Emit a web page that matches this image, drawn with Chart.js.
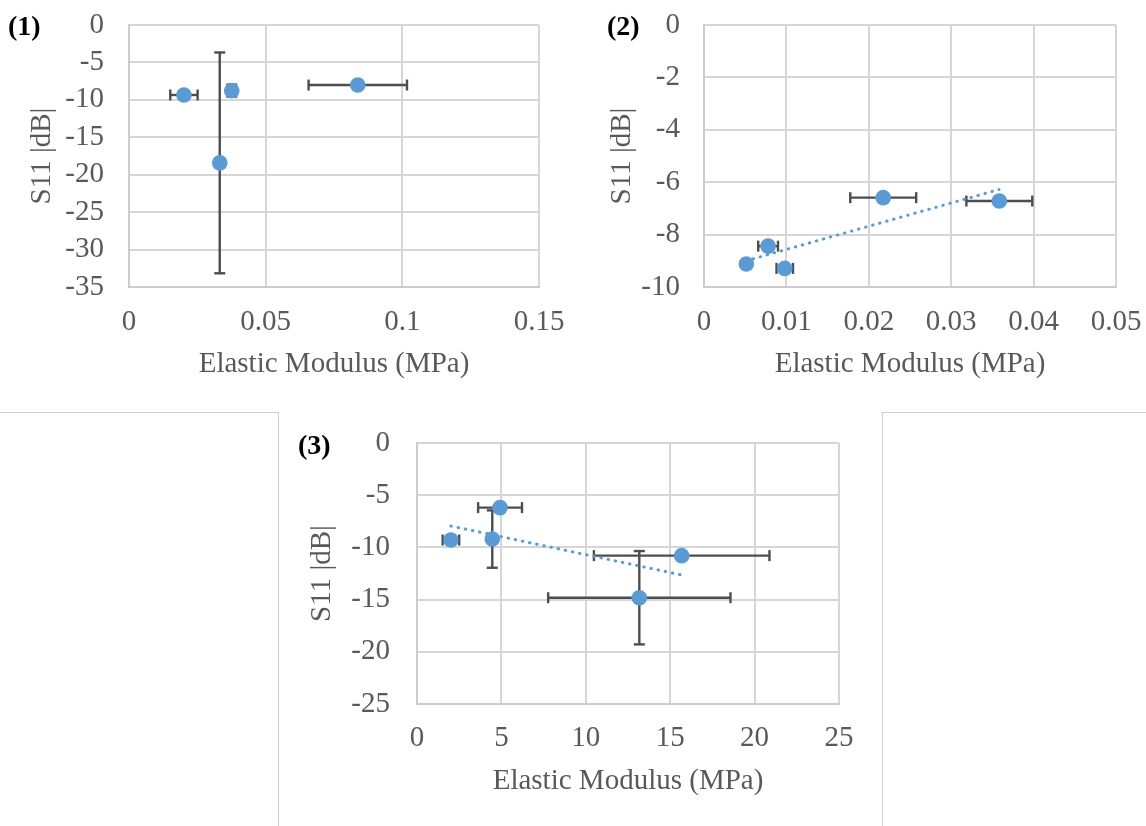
<!DOCTYPE html>
<html>
<head>
<meta charset="utf-8">
<script src="https://cdn.jsdelivr.net/npm/chart.js@4.4.1/dist/chart.umd.min.js"></script>
<style>
  html, body { margin: 0; padding: 0; background: #ffffff; }
  body { width: 1146px; height: 826px; position: relative; overflow: hidden; font-family: "Liberation Serif", "Times New Roman", serif; }
  canvas { position: absolute; }
  .plabel { position: absolute; font: bold 28px "Liberation Serif", serif; color: #000; line-height: 28px; white-space: nowrap; }
  .rule { position: absolute; background: #d0d0d0; }
</style>
</head>
<body>
<canvas id="c1" width="580" height="400" style="left:0px;top:0px"></canvas>
<canvas id="c2" width="566" height="400" style="left:580px;top:0px"></canvas>
<canvas id="c3" width="600" height="413" style="left:280px;top:413px"></canvas>

<div class="plabel" style="left:8px;top:12px">(1)</div>
<div class="plabel" style="left:607px;top:12px">(2)</div>
<div class="plabel" style="left:298px;top:431px">(3)</div>

<div class="rule" style="left:0px;top:412px;width:279px;height:1px"></div>
<div class="rule" style="left:882px;top:412px;width:264px;height:1px"></div>
<div class="rule" style="left:278px;top:412px;width:1px;height:414px"></div>
<div class="rule" style="left:882px;top:412px;width:1px;height:414px"></div>

<script>
// ---------- shared text ----------
const xTitle = "Elastic Modulus (MPa)";
const yTitle = "S11 |dB|";

// ---------- panel (1) ----------
const p1X    = [0.0201, 0.0376, 0.0332, 0.0837];
const p1Y    = [-9.35, -8.77, -18.42, -8.02];
const p1XErr = [0.005, 0, 0, 0.018];
const p1YErr = [0, 0.8, 14.75, 0];
const p1XTicks = [0, 0.05, 0.1, 0.15];
const p1XTickLabels = ["0", "0.05", "0.1", "0.15"];
const p1YTicks = [0, -5, -10, -15, -20, -25, -30, -35];
const p1YTickLabels = ["0", "-5", "-10", "-15", "-20", "-25", "-30", "-35"];

// ---------- panel (2) ----------
const p2X    = [0.00514, 0.00778, 0.0098, 0.02175, 0.03584];
const p2Y    = [-9.12, -8.44, -9.29, -6.59, -6.72];
const p2XErr = [0, 0.0012, 0.001, 0.004, 0.004];
const p2YErr = [0, 0, 0, 0, 0];
const p2TrendX = [0.0051, 0.0358];
const p2TrendY = [-9.0, -6.28];
const p2XTicks = [0, 0.01, 0.02, 0.03, 0.04, 0.05];
const p2XTickLabels = ["0", "0.01", "0.02", "0.03", "0.04", "0.05"];
const p2YTicks = [0, -2, -4, -6, -8, -10];
const p2YTickLabels = ["0", "-2", "-4", "-6", "-8", "-10"];

// ---------- panel (3) ----------
const p3X    = [2.01, 4.46, 4.92, 15.68, 13.17];
const p3Y    = [-9.29, -9.2, -6.19, -10.79, -14.82];
const p3XErr = [0.49, 0, 1.3, 5.2, 5.4];
const p3YErr = [0, 2.75, 0, 0, 4.47];
const p3TrendX = [2.01, 15.68];
const p3TrendY = [-7.95, -12.64];
const p3XTicks = [0, 5, 10, 15, 20, 25];
const p3XTickLabels = ["0", "5", "10", "15", "20", "25"];
const p3YTicks = [0, -5, -10, -15, -20, -25];
const p3YTickLabels = ["0", "-5", "-10", "-15", "-20", "-25"];

// ---------- styling ----------
const BLUE = '#5b9bd5';
const GRAY_TEXT = '#595959';
const GRID = '#d6d6d6';
const ERR = '#4d4d4d';
const FONT_SIZE = 29;
Chart.defaults.font.family = '"Liberation Serif", "Times New Roman", serif';

function errorBarPlugin(xs, ys, xe, ye) {
  return {
    id: 'errbars',
    beforeDatasetsDraw(chart) {
      const sx = chart.scales.x, sy = chart.scales.y, ctx = chart.ctx;
      const cap = 5.5;
      ctx.save();
      ctx.strokeStyle = ERR;
      ctx.lineWidth = 2.4;
      ctx.lineCap = 'butt';
      const seg = (a, b, c, d) => { ctx.beginPath(); ctx.moveTo(a, b); ctx.lineTo(c, d); ctx.stroke(); };
      xs.forEach((xv, i) => {
        const px = sx.getPixelForValue(xv);
        const py = sy.getPixelForValue(ys[i]);
        if (xe[i] > 0) {
          const l = sx.getPixelForValue(xv - xe[i]);
          const r = sx.getPixelForValue(xv + xe[i]);
          seg(l, py, r, py);
          seg(l, py - cap, l, py + cap);
          seg(r, py - cap, r, py + cap);
        }
        if (ye[i] > 0) {
          const t = sy.getPixelForValue(ys[i] + ye[i]);
          const b = sy.getPixelForValue(ys[i] - ye[i]);
          seg(px, t, px, b);
          seg(px - cap, t, px + cap, t);
          seg(px - cap, b, px + cap, b);
        }
      });
      ctx.restore();
    }
  };
}

// the gap between the plot edge and the tick labels is made with an invisible
// tick mark (tickLength) so that it does not add to the axis edge padding
function axisCfg(isX, ticksArr, labelsArr, size, gap, titleText) {
  return {
    type: 'linear',
    position: isX ? 'bottom' : 'left',
    min: Math.min(...ticksArr),
    max: Math.max(...ticksArr),
    afterBuildTicks: (axis) => { axis.ticks = ticksArr.map(v => ({ value: v })); },
    afterFit: (axis) => { if (isX) axis.height = size; else axis.width = size; },
    ticks: {
      autoSkip: false,
      maxRotation: 0,
      minRotation: 0,
      padding: 0,
      color: GRAY_TEXT,
      font: { size: FONT_SIZE },
      callback: (v) => { const k = ticksArr.indexOf(v); return k >= 0 ? labelsArr[k] : ''; }
    },
    grid: { color: GRID, lineWidth: 2, drawTicks: true, tickLength: gap, tickColor: 'rgba(0,0,0,0)' },
    border: { display: true, color: '#cccccc', width: 2 },
    title: {
      display: true,
      text: titleText,
      color: GRAY_TEXT,
      font: { size: FONT_SIZE },
      padding: isX ? { top: 0, bottom: 0 } : { top: 25, bottom: 0 }
    }
  };
}

function makeChart(id, d) {
  const datasets = [{
    label: 'data',
    data: d.x.map((v, i) => ({ x: v, y: d.y[i] })),
    pointRadius: 7.8,
    pointHoverRadius: 7.8,
    backgroundColor: BLUE,
    borderColor: BLUE,
    borderWidth: 0,
    showLine: false,
    order: 0
  }];
  if (d.tx) {
    datasets.push({
      label: 'trend',
      data: d.tx.map((v, i) => ({ x: v, y: d.ty[i] })),
      showLine: true,
      pointRadius: 0,
      borderColor: BLUE,
      borderWidth: 3,
      borderDash: [0.5, 6.8],
      borderCapStyle: 'round',
      fill: false,
      order: 1
    });
  }
  return new Chart(document.getElementById(id), {
    type: 'scatter',
    data: { datasets },
    options: {
      responsive: false,
      animation: false,
      events: [],
      layout: { padding: d.pad },
      plugins: { legend: { display: false }, tooltip: { enabled: false } },
      scales: {
        x: axisCfg(true, d.xt, d.xl, d.xh, d.xgap, xTitle),
        y: axisCfg(false, d.yt, d.yl, d.yw, d.ygap, yTitle)
      }
    },
    plugins: [errorBarPlugin(d.x, d.y, d.xe, d.ye)]
  });
}

makeChart('c1', {
  x: p1X, y: p1Y, xe: p1XErr, ye: p1YErr,
  xt: p1XTicks, xl: p1XTickLabels, yt: p1YTicks, yl: p1YTickLabels,
  pad: { left: 0, top: 25, right: 41, bottom: 18 }, yw: 129, xh: 95, xgap: 18, ygap: 25
});
makeChart('c2', {
  x: p2X, y: p2Y, xe: p2XErr, ye: p2YErr, tx: p2TrendX, ty: p2TrendY,
  xt: p2XTicks, xl: p2XTickLabels, yt: p2YTicks, yl: p2YTickLabels,
  pad: { left: 0, top: 25, right: 30, bottom: 18 }, yw: 124, xh: 95, xgap: 18, ygap: 24
});
makeChart('c3', {
  x: p3X, y: p3Y, xe: p3XErr, ye: p3YErr, tx: p3TrendX, ty: p3TrendY,
  xt: p3XTicks, xl: p3XTickLabels, yt: p3YTicks, yl: p3YTickLabels,
  pad: { left: 0, top: 30, right: 41, bottom: 27 }, yw: 137, xh: 95, xgap: 17, ygap: 27
});
</script>
</body>
</html>
